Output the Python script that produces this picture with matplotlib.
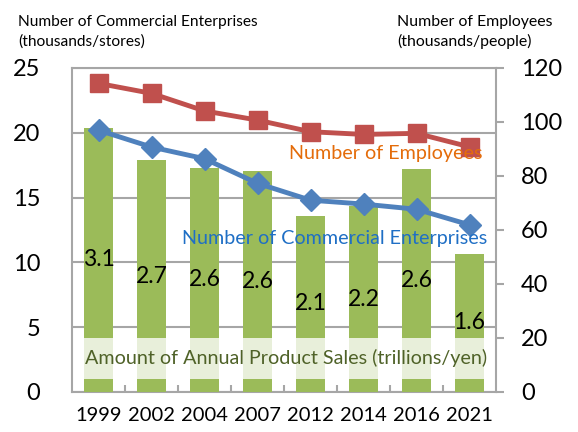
import matplotlib
matplotlib.use("Agg")
import matplotlib.pyplot as plt
from matplotlib.patches import Rectangle

plt.rcParams["font.family"] = ["Lato", "DejaVu Sans"]

years = ["1999", "2002", "2004", "2007", "2012", "2014", "2016", "2021"]
sales = [3.1, 2.72, 2.63, 2.59, 2.07, 2.18, 2.62, 1.62]  # trillions yen
enterprises = [20.2, 18.9, 18.0, 16.1, 14.8, 14.5, 14.1, 12.9]  # thousands
employees = [114.3, 110.6, 104.1, 100.7, 96.4, 95.4, 95.8, 90.8]  # thousands

GRID = "#a6a6a6"
x = list(range(len(years)))

fig = plt.figure(figsize=(5.78, 4.32), dpi=100)
ax = fig.add_axes([72 / 578, 40 / 432, 424 / 578, 324 / 432])

# left axis: grid + ticks
ax.set_xlim(-0.5, len(years) - 0.5)
ax.set_ylim(0, 25)
ax.set_yticks([0, 5, 10, 15, 20, 25])
ax.yaxis.grid(True, color=GRID, lw=1.5)
ax.set_axisbelow(True)
ax.tick_params(axis="y", length=0, pad=23, labelsize=17)
ax.set_xticks(x)
ax.set_xticklabels(years)
ax.set_xticks([i + 0.5 for i in x[:-1]], minor=True)
ax.tick_params(axis="x", which="major", length=0, pad=11, labelsize=14.5)
ax.tick_params(axis="x", which="minor", direction="in", length=5, width=1.5, color=GRID)
for s in ["left", "bottom", "top"]:
    ax.spines[s].set_color(GRID)
    ax.spines[s].set_linewidth(1.5)
ax.spines["right"].set_visible(False)

# bars on their own hidden scale
ax_bar = ax.twinx()
ax_bar.set_ylim(0, 3.8)
bars = ax_bar.bar(x, sales, width=0.55, color="#9bbb59", zorder=2)
ax_bar.bar_label(bars, labels=[f"{v:.1f}" for v in sales], label_type="center",
                 fontsize=16.5, color="black", zorder=4)
ax_bar.add_patch(Rectangle((0.026, 0.04), 0.95, 0.127, transform=ax_bar.transAxes,
                           facecolor="white", alpha=0.78, edgecolor="none", zorder=3))
ax_bar.text(0.505, 0.105, "Amount of Annual Product Sales (trillions/yen)",
            transform=ax_bar.transAxes, ha="center", va="center",
            fontsize=14.2, color="#4f6228", zorder=4)
ax_bar.axis("off")

# enterprises line (left scale)
ax_ent = ax.twinx()
ax_ent.set_ylim(0, 25)
ax_ent.plot(x, enterprises, color="#4f81bd", lw=3.5, marker="D", markersize=11)
ax_ent.axis("off")

# employees line (right scale)
ax_emp = ax.twinx()
ax_emp.set_ylim(0, 120)
ax_emp.set_yticks([0, 20, 40, 60, 80, 100, 120])
ax_emp.plot(x, employees, color="#c0504d", lw=3.5, marker="s", markersize=13.5)
ax_emp.tick_params(axis="y", direction="out", length=6, width=1.5, color=GRID,
                   pad=12, labelsize=17)
for s in ["left", "bottom", "top"]:
    ax_emp.spines[s].set_visible(False)
ax_emp.spines["right"].set_color(GRID)
ax_emp.spines["right"].set_linewidth(1.5)

ax_emp.text(0.967, 0.735, "Number of Employees", transform=ax_emp.transAxes,
            ha="right", va="center", fontsize=14.2, color="#e46c0a")
ax_emp.text(0.979, 0.475, "Number of Commercial Enterprises", transform=ax_emp.transAxes,
            ha="right", va="center", fontsize=14.2, color="#1f6fc5")

fig.text(18 / 578, 1 - 32 / 432, "Number of Commercial Enterprises\n(thousands/stores)",
         ha="left", va="center", fontsize=11.2, linespacing=1.45)
fig.text(397 / 578, 1 - 32 / 432, "Number of Employees\n(thousands/people)",
         ha="left", va="center", fontsize=11.4, linespacing=1.45)

fig.savefig("out.png", dpi=100)
